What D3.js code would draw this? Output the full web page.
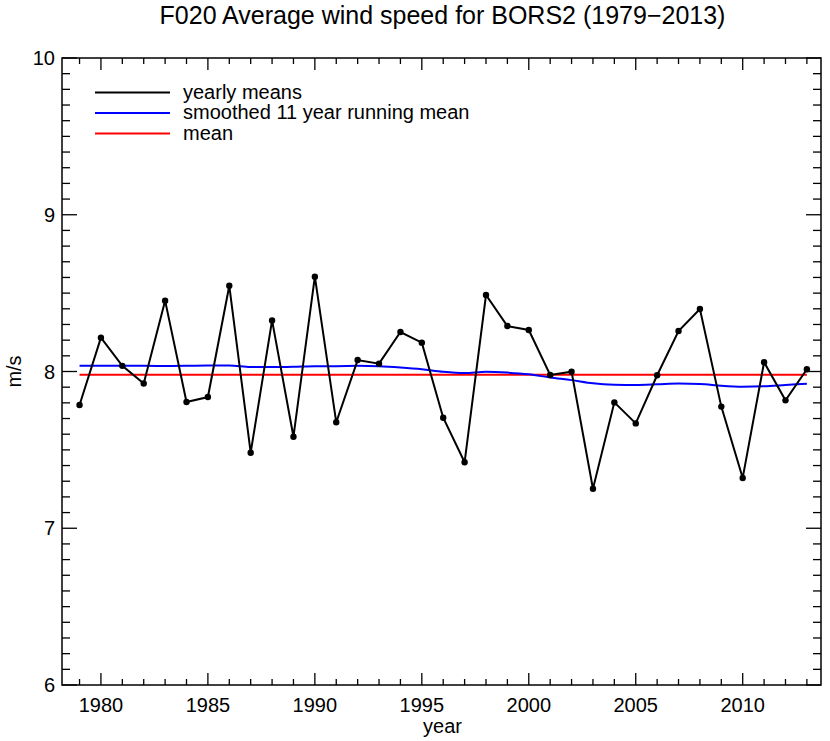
<!DOCTYPE html>
<html><head><meta charset="utf-8">
<script src="https://cdn.jsdelivr.net/npm/d3@7"></script>
<style>body{margin:0;background:#fff}svg text{font-family:"Liberation Sans",Arial,sans-serif;fill:#000}</style>
</head><body>
<svg id="c" width="830" height="741"></svg>
<script>
const years = d3.range(1979, 2014);
const yearlyMeans = [7.786,8.216,8.036,7.923,8.452,7.805,7.837,8.547,7.482,8.326,7.584,8.605,7.676,8.073,8.050,8.252,8.184,7.705,7.421,8.488,8.290,8.265,7.978,7.999,7.252,7.803,7.669,7.976,8.258,8.399,7.776,7.321,8.059,7.816,8.014];
const smoothed = [8.036,8.036,8.037,8.036,8.035,8.036,8.038,8.038,8.028,8.028,8.030,8.034,8.034,8.036,8.033,8.025,8.014,7.998,7.990,7.998,7.993,7.982,7.962,7.945,7.925,7.916,7.914,7.918,7.923,7.921,7.909,7.903,7.906,7.914,7.922];
const overallMean = 7.98;
const xMajorTicks = [1980,1985,1990,1995,2000,2005,2010];
const yMajorTicks = [6,7,8,9,10];
const legendLabels = ["yearly means","smoothed 11 year running mean","mean"];
const legendColors = ["#000000","#0000ff","#ff0000"];
const title = "F020 Average wind speed for BORS2 (1979\u22122013)";

const L=62,R=821,T=58,B=685;
const svg=d3.select("#c");
const x=d3.scaleLinear().domain([1978.18,2013.66]).range([L,R]);
const y=d3.scaleLinear().domain([6,10]).range([B,T]);

svg.append("text").attr("x",(L+R)/2+1).attr("y",24).attr("text-anchor","middle").attr("font-size",25).text(title);

// ticks
const xMinor=d3.range(1979,2014), yMinor=d3.range(60,101).map(d=>d/10);
const g=svg.append("g").attr("stroke","#000").attr("stroke-width",1.3);
xMinor.forEach(v=>{const len=xMajorTicks.includes(v)?12:6;const px=x(v);
  g.append("line").attr("x1",px).attr("x2",px).attr("y1",B).attr("y2",B-len);
  g.append("line").attr("x1",px).attr("x2",px).attr("y1",T).attr("y2",T+len);});
yMinor.forEach(v=>{const len=yMajorTicks.includes(Math.round(v*10)/10)?15:8;const py=y(v);
  g.append("line").attr("y1",py).attr("y2",py).attr("x1",L).attr("x2",L+len);
  g.append("line").attr("y1",py).attr("y2",py).attr("x1",R).attr("x2",R-len);});
svg.append("rect").attr("x",L).attr("y",T).attr("width",R-L).attr("height",B-T).attr("fill","none").attr("stroke","#000").attr("stroke-width",1.5);

xMajorTicks.forEach(v=>svg.append("text").attr("x",x(v)).attr("y",711.5).attr("text-anchor","middle").attr("font-size",20).text(v));
yMajorTicks.forEach(v=>svg.append("text").attr("x",55).attr("y",y(v)+7).attr("text-anchor","end").attr("font-size",20).text(v));
svg.append("text").attr("x",(L+R)/2+1).attr("y",732.5).attr("text-anchor","middle").attr("font-size",20).text("year");
svg.append("text").attr("transform",`translate(21,${(T+B)/2}) rotate(-90)`).attr("text-anchor","middle").attr("font-size",20).text("m/s");

// mean
svg.append("line").attr("x1",x(1979)).attr("x2",x(2013)).attr("y1",y(overallMean)).attr("y2",y(overallMean)).attr("stroke","#ff0000").attr("stroke-width",2);
// smoothed
svg.append("path").datum(years.map((yr,i)=>[yr,smoothed[i]])).attr("fill","none").attr("stroke","#0000ff").attr("stroke-width",2)
  .attr("d",d3.line().x(d=>x(d[0])).y(d=>y(d[1])).curve(d3.curveMonotoneX));
// yearly
const pts=years.map((yr,i)=>[yr,yearlyMeans[i]]);
svg.append("path").datum(pts).attr("fill","none").attr("stroke","#000").attr("stroke-width",2)
  .attr("d",d3.line().x(d=>x(d[0])).y(d=>y(d[1])));
svg.selectAll("circle.p").data(pts).enter().append("circle").attr("cx",d=>x(d[0])).attr("cy",d=>y(d[1])).attr("r",3.2).attr("fill","#000");

// legend
legendLabels.forEach((t,i)=>{const ly=92.5+i*20.5;
  svg.append("line").attr("x1",95).attr("x2",170).attr("y1",ly).attr("y2",ly).attr("stroke",legendColors[i]).attr("stroke-width",1.8);
  svg.append("text").attr("x",183).attr("y",ly+6).attr("font-size",20).text(t);});
</script>
</body></html>
